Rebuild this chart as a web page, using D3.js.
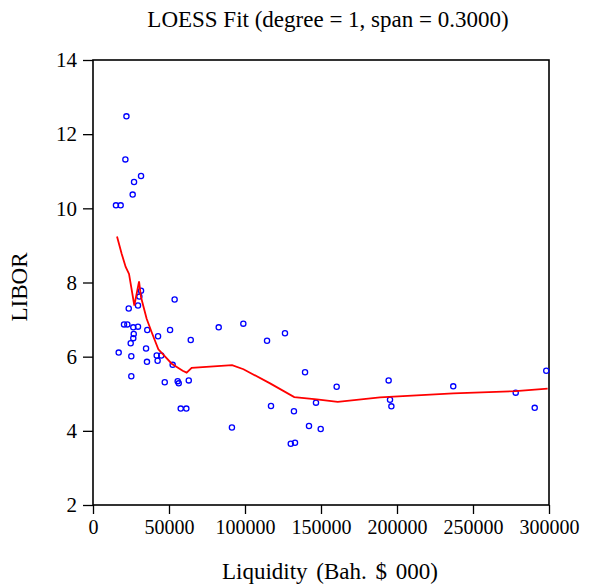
<!DOCTYPE html>
<html>
<head>
<meta charset="utf-8">
<script src="https://cdn.jsdelivr.net/npm/d3@7"></script>
<style>
  body { margin: 0; background: #fff; }
  svg text { font-family: "Liberation Serif", "Times New Roman", serif; fill: #000; }
</style>
</head>
<body>
<div id="chart"></div>
<script>
// Observed data: liquidity (Bah. $ 000) vs LIBOR
const liquidity = [22000, 21300, 31600, 27000, 26100, 15100, 18200, 31600, 30500, 53700,
    29600, 23500, 20400, 22600, 26500, 29600, 35700, 50700, 82700, 26800,
    26500, 42800, 64300, 24800, 34900, 16900, 25200, 41900, 44900, 42500,
    35500, 52400, 25200, 47200, 55700, 56400, 63000, 57700, 61400, 98900,
    114500, 126300, 139500, 160300, 146700, 117100, 132200, 91400, 142100, 149800,
    130100, 132900, 194500, 195400, 196300, 237000, 278100, 290600, 298200];
const libor = [12.48, 11.32, 10.87, 10.71, 10.37, 10.08, 10.08, 7.78, 7.62, 7.54,
    7.38, 7.30, 6.87, 6.87, 6.79, 6.81, 6.72, 6.72, 6.79, 6.61,
    6.50, 6.55, 6.45, 6.36, 6.22, 6.11, 6.01, 6.03, 6.03, 5.89,
    5.86, 5.78, 5.47, 5.31, 5.34, 5.28, 5.36, 4.60, 4.60, 6.89,
    6.43, 6.63, 5.58, 5.19, 4.76, 4.67, 4.53, 4.09, 4.13, 4.05,
    3.65, 3.68, 5.36, 4.84, 4.66, 5.20, 5.03, 4.62, 5.62];

// LOESS fit curve
const fitX = [15800, 18900, 21500, 23700, 27200, 30300, 31600, 35300, 38600, 43000,
    51800, 59000, 61600, 64900, 91500, 99000, 116500, 132400, 147200, 161000,
    188800, 237000, 278100, 299100];
const fitY = [9.24, 8.77, 8.42, 8.23, 7.38, 8.03, 7.60, 7.02, 6.66, 6.20,
    5.81, 5.62, 5.57, 5.70, 5.77, 5.66, 5.28, 4.91, 4.85, 4.78,
    4.90, 5.01, 5.07, 5.14];

const xTicks = [0, 50000, 100000, 150000, 200000, 250000, 300000];
const yTicks = [2, 4, 6, 8, 10, 12, 14];

const width = 594;
const height = 584;
const margin = { top: 60, right: 45, bottom: 79, left: 93 };

const svg = d3.select('#chart')
    .append('svg')
    .attr('width', width)
    .attr('height', height);

const xScale = d3.scaleLinear()
    .domain([0, 300000])
    .range([margin.left, width - margin.right]);

const yScale = d3.scaleLinear()
    .domain([2, 14])
    .range([height - margin.bottom, margin.top]);

// Axes (ticks only, frame drawn separately)
const xAxis = d3.axisBottom(xScale)
    .tickValues(xTicks)
    .tickFormat(d3.format('d'))
    .tickSize(9)
    .tickPadding(6);
const gx = svg.append('g')
    .attr('transform', `translate(0, ${height - margin.bottom})`)
    .call(xAxis);
gx.select('.domain').remove();
gx.selectAll('line').attr('stroke', '#000').attr('stroke-width', 1.3);
gx.selectAll('text').style('font-size', '20px').attr('font-family', null);

const yAxis = d3.axisLeft(yScale)
    .tickValues(yTicks)
    .tickSize(10)
    .tickPadding(6);
const gy = svg.append('g')
    .attr('transform', `translate(${margin.left}, 0)`)
    .call(yAxis);
gy.select('.domain').remove();
gy.selectAll('line').attr('stroke', '#000').attr('stroke-width', 1.3);
gy.selectAll('text').style('font-size', '21px').attr('font-family', null);

// Frame
svg.append('rect')
    .attr('x', margin.left)
    .attr('y', margin.top)
    .attr('width', width - margin.left - margin.right)
    .attr('height', height - margin.top - margin.bottom)
    .attr('fill', 'none')
    .attr('stroke', '#000')
    .attr('stroke-width', 1.6);

// Scatter points
svg.append('g')
    .selectAll('circle')
    .data(liquidity.map((x, i) => ({ x: x, y: libor[i] })))
    .join('circle')
    .attr('cx', d => xScale(d.x))
    .attr('cy', d => yScale(d.y))
    .attr('r', 2.6)
    .attr('fill', 'none')
    .attr('stroke', '#0000ff')
    .attr('stroke-width', 1.3);

// LOESS line
const line = d3.line()
    .x(d => xScale(d.x))
    .y(d => yScale(d.y));

svg.append('path')
    .datum(fitX.map((x, i) => ({ x: x, y: fitY[i] })))
    .attr('fill', 'none')
    .attr('stroke', '#ff0000')
    .attr('stroke-width', 1.8)
    .attr('d', line);

// Labels
svg.append('text')
    .attr('x', 328)
    .attr('y', 27)
    .style('text-anchor', 'middle')
    .style('font-size', '23px')
    .text('LOESS Fit (degree = 1, span = 0.3000)');

svg.append('text')
    .attr('x', 330)
    .attr('y', 579)
    .style('text-anchor', 'middle')
    .style('font-size', '23px')
    .style('word-spacing', '3px')
    .text('Liquidity (Bah. $ 000)');

svg.append('text')
    .attr('transform', 'rotate(-90)')
    .attr('x', -287)
    .attr('y', 27)
    .style('text-anchor', 'middle')
    .style('font-size', '23px')
    .text('LIBOR');
</script>
</body>
</html>
